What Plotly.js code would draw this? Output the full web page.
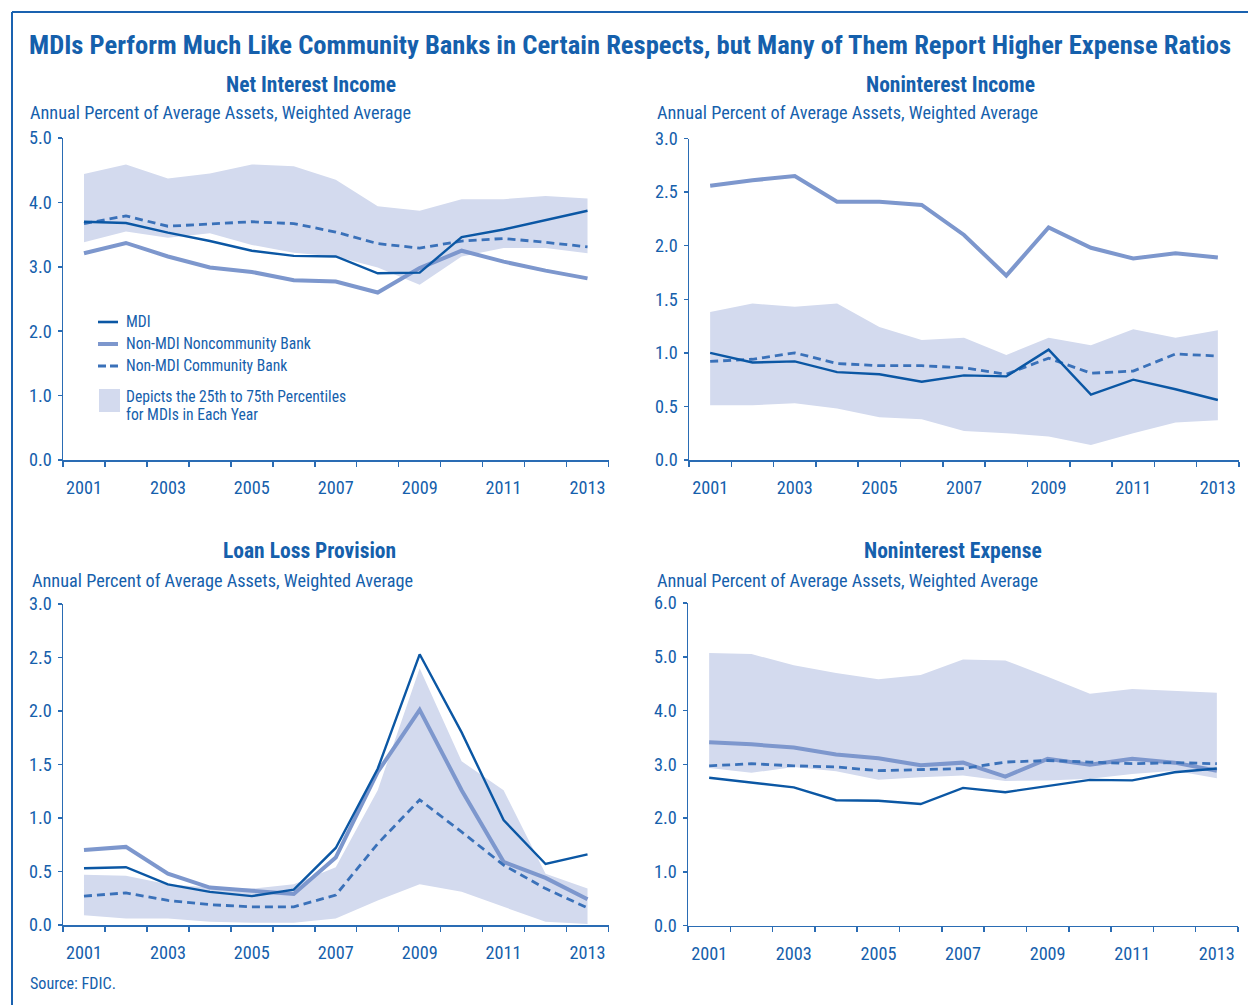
<!DOCTYPE html>
<html><head><meta charset="utf-8">
<script src="https://cdn.plot.ly/plotly-3.0.1.min.js"></script>
<style>html,body{margin:0;padding:0;background:#fff}#chart{width:1248px;height:1005px}</style>
</head><body><div id="chart"></div>
<script>
// ---------- data ----------
const years = [2001,2002,2003,2004,2005,2006,2007,2008,2009,2010,2011,2012,2013];
const tickYears = [2001,2003,2005,2007,2009,2011,2013];
const tickLabels = ["2001","2003","2005","2007","2009","2011","2013"];

// Net Interest Income
const niiMDI     = [3.70,3.68,3.53,3.40,3.25,3.17,3.16,2.90,2.91,3.46,3.58,3.72,3.87];
const niiNonComm = [3.21,3.37,3.16,2.99,2.92,2.79,2.77,2.60,2.98,3.25,3.08,2.94,2.82];
const niiComm    = [3.67,3.79,3.63,3.66,3.70,3.67,3.54,3.36,3.29,3.40,3.44,3.38,3.31];
const niiP25     = [3.38,3.55,3.45,3.52,3.34,3.22,3.16,2.99,2.72,3.16,3.29,3.29,3.21];
const niiP75     = [4.44,4.59,4.37,4.45,4.59,4.56,4.35,3.94,3.87,4.05,4.05,4.10,4.06];

// Noninterest Income
const nonIncMDI     = [1.00,0.91,0.92,0.82,0.80,0.73,0.79,0.78,1.03,0.61,0.75,0.66,0.56];
const nonIncNonComm = [2.56,2.61,2.65,2.41,2.41,2.38,2.10,1.72,2.17,1.98,1.88,1.93,1.89];
const nonIncComm    = [0.92,0.94,1.00,0.90,0.88,0.88,0.86,0.80,0.95,0.81,0.83,0.99,0.97];
const nonIncP25     = [0.51,0.51,0.53,0.48,0.40,0.38,0.27,0.25,0.22,0.14,0.25,0.35,0.37];
const nonIncP75     = [1.38,1.46,1.43,1.46,1.24,1.12,1.14,0.98,1.14,1.07,1.22,1.14,1.21];

// Loan Loss Provision
const llpMDI     = [0.53,0.54,0.38,0.31,0.27,0.33,0.72,1.46,2.53,1.80,0.98,0.57,0.66];
const llpNonComm = [0.70,0.73,0.48,0.35,0.32,0.29,0.63,1.43,2.01,1.26,0.59,0.44,0.24];
const llpComm    = [0.27,0.30,0.23,0.19,0.17,0.17,0.28,0.76,1.17,0.87,0.56,0.34,0.16];
const llpP25     = [0.09,0.06,0.06,0.03,0.02,0.02,0.06,0.23,0.38,0.31,0.17,0.03,0.01];
const llpP75     = [0.47,0.46,0.38,0.35,0.34,0.38,0.54,1.26,2.40,1.53,1.26,0.48,0.34];

// Noninterest Expense
const nonExpMDI     = [2.75,2.66,2.57,2.33,2.32,2.26,2.56,2.48,2.59,2.71,2.70,2.85,2.92];
const nonExpNonComm = [3.41,3.37,3.31,3.18,3.11,2.98,3.03,2.77,3.10,2.99,3.10,3.03,2.88];
const nonExpComm    = [2.97,3.01,2.97,2.95,2.88,2.90,2.92,3.04,3.07,3.04,3.01,3.03,3.01];
const nonExpP25     = [2.93,2.84,2.95,2.87,2.71,2.76,2.79,2.69,2.70,2.73,2.82,2.88,2.74];
const nonExpP75     = [5.07,5.05,4.84,4.70,4.58,4.66,4.95,4.93,4.63,4.31,4.40,4.37,4.33];

const seriesNames = ["MDI","Non-MDI Noncommunity Bank","Non-MDI Community Bank"];
const bandLine1 = "Depicts the 25th to 75th Percentiles";
const bandLine2 = "for MDIs in Each Year";
const mainTitle = "MDIs Perform Much Like Community Banks in Certain Respects, but Many of Them Report Higher Expense Ratios";
const panelTitles = ["Net Interest Income","Noninterest Income","Loan Loss Provision","Noninterest Expense"];
const unitLabel = "Annual Percent of Average Assets, Weighted Average";
const sourceNote = "Source: FDIC.";

// ---------- styling ----------
const W = 1248, H = 1005;
const fx = p => p / W;
const fy = p => 1 - p / H;
const FONT = '"Liberation Sans Narrow","Arial Narrow","Roboto Condensed","Noto Sans Condensed","DejaVu Sans Condensed","Liberation Sans",sans-serif';
const TXT = '#1560ac';
const AX = '#2a6cb4';
const C_MDI = '#0b57a4', C_NON = '#7d97cd', C_COM = '#3a71b9', C_BAND = '#d3daee';

// size text so that its width matches the reference layout
const cv = document.createElement('canvas').getContext('2d');
function fit(text, bold, target, ref, lo, hi) {
  cv.font = (bold ? 'bold ' : '') + ref + 'px ' + FONT;
  const w = cv.measureText(text).width;
  let f = target / w;
  f = Math.max(lo || 0.75, Math.min(hi || 1.15, f));
  return +(ref * f).toFixed(2);
}
const sTitle = fit(mainTitle, true, 1203, 26);
const sPanel = fit(panelTitles[0], true, 170, 20);
const sUnit = fit(unitLabel, false, 381, 18);
const sLeg = (fit(seriesNames[1], false, 190, 16) + fit(bandLine1, false, 214, 16)) / 2;
const sSrc = fit(sourceNote, false, 86, 16);
const sTick = fit("2001", false, 36, 18, 0.85, 1.05);

const panels = [
  {mdi: niiMDI, non: niiNonComm, com: niiComm, p25: niiP25, p75: niiP75, yr:[0,5], dt:1,
   xd:[63,608.5], yd:[138,460]},
  {mdi: nonIncMDI, non: nonIncNonComm, com: nonIncComm, p25: nonIncP25, p75: nonIncP75, yr:[0,3], dt:0.5,
   xd:[689,1239], yd:[138.5,460]},
  {mdi: llpMDI, non: llpNonComm, com: llpComm, p25: llpP25, p75: llpP75, yr:[0,3], dt:0.5,
   xd:[63,608.5], yd:[604,925]},
  {mdi: nonExpMDI, non: nonExpNonComm, com: nonExpComm, p25: nonExpP25, p75: nonExpP75, yr:[0,6], dt:1,
   xd:[688,1238], yd:[603,925.5]}
];

const traces = [];
const layout = {
  width: W, height: H,
  margin: {l:0, r:0, t:0, b:0},
  paper_bgcolor: '#fff', plot_bgcolor: 'rgba(0,0,0,0)',
  showlegend: false,
  font: {family: FONT, color: TXT},
  shapes: [], annotations: []
};

panels.forEach((p, i) => {
  const n = i + 1;
  const xa = 'x' + (n === 1 ? '' : n), ya = 'y' + (n === 1 ? '' : n);
  traces.push({x: years, y: p.p25, xaxis: xa, yaxis: ya, mode: 'lines', line: {width: 0, color: C_BAND}, hoverinfo: 'skip'});
  traces.push({x: years, y: p.p75, xaxis: xa, yaxis: ya, mode: 'lines', fill: 'tonexty', fillcolor: C_BAND, line: {width: 0, color: C_BAND}, hoverinfo: 'skip'});
  traces.push({x: years, y: p.non, xaxis: xa, yaxis: ya, mode: 'lines', name: seriesNames[1], line: {width: 4, color: C_NON}});
  traces.push({x: years, y: p.com, xaxis: xa, yaxis: ya, mode: 'lines', name: seriesNames[2], line: {width: 2.8, color: C_COM, dash: '8px,5px'}});
  traces.push({x: years, y: p.mdi, xaxis: xa, yaxis: ya, mode: 'lines', name: seriesNames[0], line: {width: 2.4, color: C_MDI}});

  layout['xaxis' + (n === 1 ? '' : n)] = {
    domain: [fx(p.xd[0]), fx(p.xd[1])], anchor: ya,
    range: [2000.5, 2013.5], type: 'linear',
    tickmode: 'array', tickvals: tickYears, ticktext: tickLabels, ticks: '',
    ticklabelstandoff: 11,
    minor: {tickmode: 'linear', tick0: 2000.5, dtick: 1, ticks: 'outside', ticklen: 5, tickwidth: 1.5, tickcolor: AX, showgrid: false},
    showline: true, linecolor: AX, linewidth: 1.5, showgrid: false, zeroline: false,
    tickfont: {size: sTick, color: TXT, family: FONT}, fixedrange: true
  };
  layout['yaxis' + (n === 1 ? '' : n)] = {
    domain: [fy(p.yd[1]), fy(p.yd[0])], anchor: xa,
    range: p.yr, dtick: p.dt, tick0: 0, tickformat: '.1f',
    ticks: 'outside', ticklen: 4, tickwidth: 1.5, tickcolor: AX,
    ticklabelstandoff: 2,
    showline: true, linecolor: AX, linewidth: 1.5, showgrid: false, zeroline: false,
    tickfont: {size: sTick, color: TXT, family: FONT}, fixedrange: true
  };
});

// frame
layout.shapes.push({type: 'line', xref: 'paper', yref: 'paper', x0: fx(12), x1: fx(1260), y0: fy(12), y1: fy(12), line: {color: '#1a62b0', width: 2}});
layout.shapes.push({type: 'line', xref: 'paper', yref: 'paper', x0: fx(12), x1: fx(12), y0: fy(12), y1: fy(1010), line: {color: '#1a62b0', width: 2}});

// titles
const ann = (text, x, y, size, bold, xanchor) => layout.annotations.push({
  text: bold ? '<b>' + text + '</b>' : text, xref: 'paper', yref: 'paper', x: fx(x), y: fy(y),
  xanchor: xanchor || 'left', yanchor: 'middle', showarrow: false,
  font: {family: FONT, size: size, color: TXT}
});
ann(mainTitle, 27, 44, sTitle, true);
ann(panelTitles[0], 311, 85, sPanel, true, 'center');
ann(panelTitles[1], 950, 85, sPanel, true, 'center');
ann(panelTitles[2], 309, 550, sPanel, true, 'center');
ann(panelTitles[3], 953, 550, sPanel, true, 'center');
ann(unitLabel, 28, 113, sUnit, false);
ann(unitLabel, 655, 113, sUnit, false);
ann(unitLabel, 30, 580, sUnit, false);
ann(unitLabel, 655, 580, sUnit, false);
ann(sourceNote, 28, 983, sSrc, false);

// legend (panel 1)
const legY = [322, 344, 366];
const legStyles = [{color: C_MDI, width: 2.6}, {color: C_NON, width: 4}, {color: C_COM, width: 3, dash: '8px,4px'}];
legY.forEach((y, k) => {
  layout.shapes.push({type: 'line', xref: 'paper', yref: 'paper', x0: fx(98), x1: fx(118), y0: fy(y), y1: fy(y), line: legStyles[k]});
  ann(seriesNames[k], 124, y, sLeg, false);
});
layout.shapes.push({type: 'rect', xref: 'paper', yref: 'paper', x0: fx(99), x1: fx(120), y0: fy(389), y1: fy(412), fillcolor: C_BAND, line: {width: 0}});
ann(bandLine1, 124, 397, sLeg, false);
ann(bandLine2, 124, 415, sLeg, false);

Plotly.newPlot('chart', traces, layout, {staticPlot: true, displayModeBar: false});
</script>
</body></html>
